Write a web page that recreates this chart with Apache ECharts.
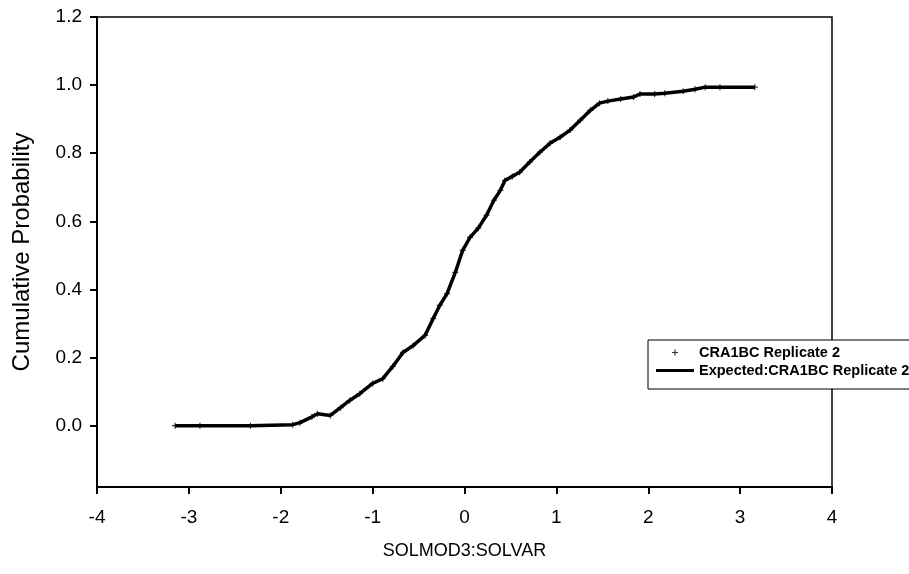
<!DOCTYPE html>
<html>
<head>
<meta charset="utf-8">
<script src="https://cdn.jsdelivr.net/npm/echarts@6/dist/echarts.min.js"></script>
<style>
  html, body { margin: 0; padding: 0; background: #fff; }
  #chart { width: 909px; height: 574px; }
</style>
</head>
<body>
<div id="chart"></div>
<script>
// Empirical cumulative distribution of SOLMOD3:SOLVAR, replicate 2
var solvar = [
  -3.15, -2.88, -2.33, -1.87, -1.79, -1.66, -1.60, -1.46, -1.35, -1.25,
  -1.14, -1.00, -0.89, -0.78, -0.67, -0.56, -0.43, -0.34, -0.27, -0.19,
  -0.10, -0.02, 0.06, 0.15, 0.24, 0.32, 0.39, 0.44, 0.52, 0.60,
  0.71, 0.82, 0.93, 1.04, 1.15, 1.26, 1.37, 1.47, 1.56, 1.70,
  1.84, 1.91, 2.07, 2.18, 2.38, 2.51, 2.62, 2.78, 3.16
];
var cumProb = [
  0.000, 0.000, 0.000, 0.003, 0.009, 0.026, 0.035, 0.030, 0.053, 0.074,
  0.094, 0.124, 0.138, 0.174, 0.215, 0.235, 0.265, 0.315, 0.353, 0.388,
  0.450, 0.515, 0.553, 0.580, 0.618, 0.662, 0.691, 0.720, 0.732, 0.744,
  0.774, 0.803, 0.829, 0.847, 0.868, 0.897, 0.926, 0.947, 0.953, 0.959,
  0.965, 0.974, 0.974, 0.976, 0.982, 0.988, 0.994, 0.994, 0.994
];
var xTicks = [-4, -3, -2, -1, 0, 1, 2, 3, 4];
var yTicks = [0, 0.2, 0.4, 0.6, 0.8, 1.0, 1.2];

var pairs = solvar.map(function (v, i) { return [v, cumProb[i]]; });
var plusPath = 'path://M4,0 L6,0 L6,4 L10,4 L10,6 L6,6 L6,10 L4,10 L4,6 L0,6 L0,4 L4,4 Z';
var barPath = 'path://M0,0 L38,0 L38,3 L0,3 Z';

var chart = echarts.init(document.getElementById('chart'));
chart.setOption({
  backgroundColor: '#ffffff',
  animation: false,
  textStyle: { fontFamily: 'Liberation Sans, Arial, sans-serif' },
  grid: {
    left: 97, right: 77, top: 17, bottom: 87,
    show: true, borderColor: '#000', borderWidth: 1.5
  },
  legend: {
    left: 648, top: 340,
    orient: 'vertical',
    backgroundColor: '#fff',
    borderColor: '#000', borderWidth: 1,
    padding: [5, 30, 11, 8],
    itemGap: 3,
    itemWidth: 38, itemHeight: 6,
    textStyle: { fontSize: 14.5, fontWeight: 'bold', color: '#000' },
    data: [
      { name: 'CRA1BC Replicate 2', icon: plusPath, itemStyle: { color: '#000' } },
      { name: 'Expected:CRA1BC Replicate 2', icon: barPath, itemStyle: { color: '#000' } }
    ]
  },
  xAxis: {
    type: 'value',
    min: -4, max: 4, interval: 1,
    name: 'SOLMOD3:SOLVAR',
    nameLocation: 'middle', nameGap: 55,
    nameTextStyle: { fontSize: 18, color: '#000' },
    axisLine: { onZero: false, lineStyle: { color: '#000', width: 2 } },
    axisTick: { show: true, inside: false, length: 7, lineStyle: { color: '#000', width: 2 } },
    axisLabel: { fontSize: 19, color: '#000', margin: 21, customValues: xTicks },
    splitLine: { show: false }
  },
  yAxis: {
    type: 'value',
    min: -0.18, max: 1.2,
    name: 'Cumulative Probability',
    nameLocation: 'middle', nameGap: 63,
    nameTextStyle: { fontSize: 24, color: '#000' },
    axisLine: { onZero: false, lineStyle: { color: '#000', width: 2 } },
    axisTick: { show: true, inside: false, length: 7, customValues: yTicks, lineStyle: { color: '#000', width: 2 } },
    axisLabel: {
      fontSize: 19, color: '#000', margin: 15, customValues: yTicks,
      formatter: function (v) { return v.toFixed(1); }
    },
    splitLine: { show: false }
  },
  series: [
    {
      name: 'CRA1BC Replicate 2',
      type: 'scatter',
      data: pairs,
      symbol: plusPath,
      symbolSize: 6,
      itemStyle: { color: '#000' },
      z: 3
    },
    {
      name: 'Expected:CRA1BC Replicate 2',
      type: 'line',
      data: pairs,
      symbol: 'none',
      lineStyle: { color: '#000', width: 3.5 },
      itemStyle: { color: '#000' },
      z: 2
    }
  ]
});
</script>
</body>
</html>
